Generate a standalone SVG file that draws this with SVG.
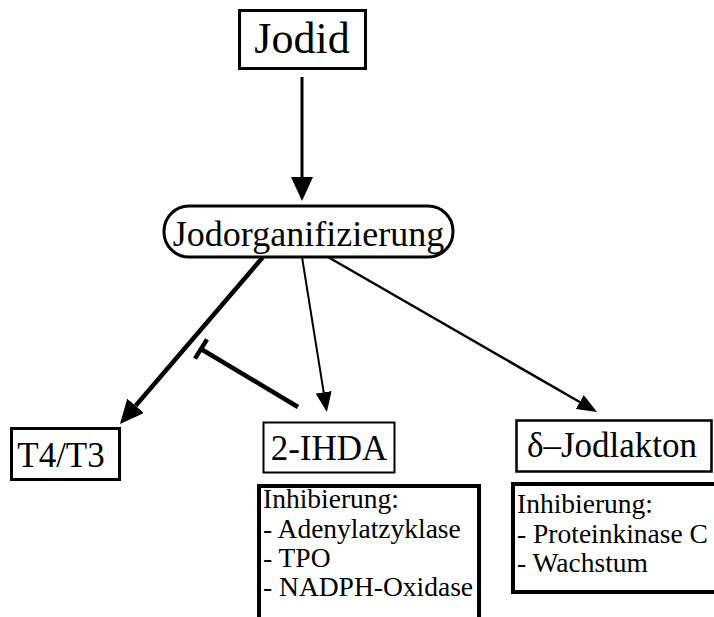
<svg xmlns="http://www.w3.org/2000/svg" width="714" height="617" viewBox="0 0 714 617">
<style>
text{font-family:"Liberation Serif","Times New Roman",serif;fill:#000}
.box{fill:#fff;stroke:#000}
.c{text-anchor:middle}
.ln{stroke:#000;fill:none}
.s{font-size:27.5px}
.r{font-size:27.5px}
</style>
<defs>
<marker id="ah" viewBox="0 0 20 16" refX="0" refY="8" markerWidth="20" markerHeight="16" markerUnits="userSpaceOnUse" orient="auto"><path d="M0,0 L20,8 L0,16 z" fill="#000"/></marker>
<marker id="ahb" viewBox="0 0 24 22" refX="0" refY="11" markerWidth="24" markerHeight="22" markerUnits="userSpaceOnUse" orient="auto"><path d="M0,0 L24,11 L0,22 z" fill="#000"/></marker>
</defs>
<rect width="714" height="617" fill="#fff"/>
<g id="connectors">
<line class="ln" x1="302" y1="77" x2="302" y2="177" stroke-width="3" marker-end="url(#ahb)"/>
<line class="ln" x1="263" y1="257" x2="135.6" y2="405.8" stroke-width="4.5" marker-end="url(#ahb)"/>
<line class="ln" x1="302" y1="257" x2="323.7" y2="392.3" stroke-width="2" marker-end="url(#ah)"/>
<line class="ln" x1="328" y1="257" x2="579.7" y2="402" stroke-width="2.5" marker-end="url(#ah)"/>
<line class="ln" x1="298" y1="407" x2="201" y2="349" stroke-width="4.5"/>
<line class="ln" x1="207" y1="339.4" x2="195" y2="358.6" stroke-width="4.5"/>
</g>
<g id="jodid">
<rect class="box" x="239.5" y="10.5" width="126" height="58" stroke-width="3"/>
<text class="c" x="302" y="53" font-size="44">Jodid</text>
</g>
<g id="jodorganifizierung">
<rect class="box" x="164" y="206" width="289" height="51" rx="25" stroke-width="3"/>
<text class="c" x="308.5" y="246" font-size="36">Jodorganifizierung</text>
</g>
<g id="t4t3">
<rect class="box" x="11.5" y="428.5" width="108" height="51" stroke-width="3"/>
<text class="c" x="61" y="467" font-size="35">T4/T3</text>
</g>
<g id="ihda">
<rect class="box" x="263.5" y="422.5" width="131" height="50" stroke-width="2"/>
<text class="c" x="329" y="460" font-size="35">2-IHDA</text>
</g>
<g id="jodlakton">
<rect class="box" x="516.5" y="420.5" width="195" height="51" stroke-width="2.5"/>
<text class="c" x="612" y="457" font-size="35">δ–Jodlakton</text>
</g>
<g id="ihda-inhibierung">
<rect class="box" x="259" y="486" width="220" height="140" stroke-width="4"/>
<text class="s" x="263" y="508">Inhibierung:</text>
<text class="s" x="263" y="538">- Adenylatzyklase</text>
<text class="s" x="263" y="567">- TPO</text>
<text class="s" x="263" y="596">- NADPH-Oxidase</text>
</g>
<g id="jodlakton-inhibierung">
<rect class="box" x="513" y="484" width="210" height="108" stroke-width="4"/>
<text class="r" x="517" y="513">Inhibierung:</text>
<text class="r" x="517" y="543">- Proteinkinase C</text>
<text class="r" x="517" y="572">- Wachstum</text>
</g>
</svg>
